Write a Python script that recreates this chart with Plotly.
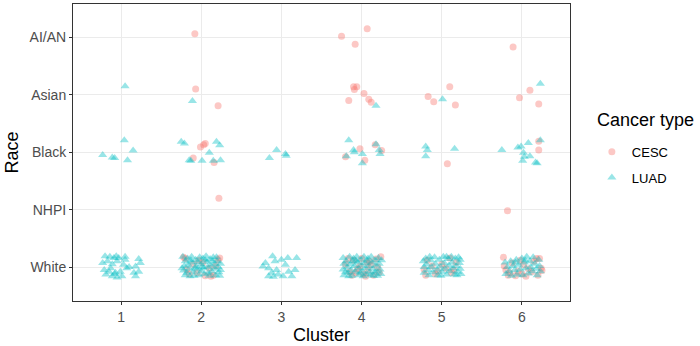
import plotly.graph_objects as go

clusters = [1, 2, 3, 4, 5, 6]
race_labels = ["White", "NHPI", "Black", "Asian", "AI/AN"]
race_pos = [1, 2, 3, 4, 5]

# CESC points (jittered cluster position, jittered race position)
cesc_x = [
    # AI/AN
    1.92, 3.75, 4.07, 3.92, 5.89,
    # Asian
    1.93, 2.21, 3.90, 3.94, 3.91, 3.84, 4.03, 4.09, 4.12, 4.83, 4.90, 5.10, 5.17, 5.97, 6.10, 6.21,
    # Black
    1.99, 2.03, 2.05, 1.90, 2.16, 3.80, 3.98, 4.04, 4.17, 4.25, 5.07, 6.21, 6.21,
    # NHPI
    2.22, 5.82,
    # White cluster 2
    1.78, 1.80, 2.23, 2.21, 1.82, 1.90, 1.95, 2.02, 2.10, 2.15, 2.05, 1.85, 2.18, 1.97, 2.12,
    # White cluster 4
    4.24, 3.80, 3.85, 3.90, 3.95, 3.98, 4.02, 4.05, 4.08, 4.10, 4.15, 4.20, 4.22, 3.88, 4.00, 4.12, 3.83, 4.18, 3.93, 4.07,
    # White cluster 5
    4.80, 4.78, 4.82, 4.88, 4.95, 5.00, 5.05, 5.10, 5.12, 5.18, 4.92, 5.15,
    # White cluster 6
    5.77, 5.78, 5.80, 5.85, 5.88, 5.92, 5.95, 6.00, 6.02, 6.05, 6.08, 6.12, 6.15, 6.18, 6.22, 6.24, 6.25, 5.83, 5.98, 6.20,
]
cesc_y = [
    5.06, 5.02, 5.15, 4.88, 4.83,
    4.10, 3.81, 4.14, 4.14, 4.09, 3.90, 4.02, 3.92, 3.87, 3.97, 3.88, 4.14, 3.82, 3.95, 4.08, 3.84,
    3.09, 3.13, 3.15, 2.90, 2.82, 2.92, 3.06, 2.86, 3.13, 3.03, 2.80, 3.04, 3.19,
    2.20, 1.98,
    1.17, 1.15, 1.16, 1.13, 0.96, 1.05, 0.90, 1.08, 0.98, 0.86, 0.85, 0.88, 1.02, 1.12, 0.84,
    1.18, 1.05, 0.92, 1.12, 0.97, 1.02, 0.88, 0.84, 0.95, 1.10, 0.86, 1.00, 0.91, 0.86, 1.15, 1.04, 1.15, 1.14, 0.90, 1.07,
    0.86, 0.96, 1.12, 1.02, 0.93, 1.05, 0.98, 1.16, 0.90, 1.08, 0.88, 0.95,
    1.17, 1.02, 0.95, 0.90, 1.07, 0.85, 0.93, 0.88, 1.04, 0.84, 0.97, 0.92, 1.10, 1.15, 1.15, 0.98, 0.94, 0.86, 1.12, 0.86,
]

# LUAD points
luad_x = [
    # Asian
    1.05, 1.89, 4.18, 5.01, 6.23,
    # Black
    0.77, 0.89, 0.92, 1.04, 1.08, 1.15,
    1.75, 1.79, 1.85, 1.87, 2.01, 2.10, 2.15, 2.19, 2.23, 2.24,
    2.85, 2.94, 3.05, 3.06,
    3.84, 3.81, 3.90, 3.91, 4.01, 4.01, 4.18, 4.22, 4.23,
    4.80, 4.82, 4.80, 5.16,
    5.75, 5.95, 5.99, 6.02, 6.03, 6.01, 6.08, 6.10, 6.17, 6.19, 6.23,
    # White cluster 1
    0.80, 0.86, 0.91, 0.94, 1.05, 1.22, 0.77, 0.83, 0.89, 0.95, 1.03, 1.07, 1.18, 1.24, 0.79,
    0.85, 0.93, 0.99, 0.89, 0.95, 1.01, 1.18, 1.22, 1.16, 0.81, 1.05, 0.97, 0.87, 0.92, 1.10,
    # White cluster 2
    1.77, 1.80, 1.79, 1.78, 1.80, 1.83, 1.84, 1.85, 1.86, 1.88, 1.88, 1.90, 1.91, 1.93, 1.94, 1.95, 1.97,
    1.98, 2.00, 2.00, 2.02, 2.03, 2.04, 2.06, 2.07, 2.08, 2.09, 2.11, 2.12, 2.13, 2.15, 2.16, 2.17,
    2.18, 2.20, 2.21, 2.22, 2.23, 2.24, 2.19, 1.82, 1.87, 1.96, 2.05, 2.10, 2.14, 1.92, 2.01, 1.76, 2.24,
    # White cluster 3
    2.89, 3.00, 3.08, 3.19, 2.80, 2.92, 3.05, 2.77, 2.84, 2.94, 2.88, 2.96, 2.84, 3.09, 3.17, 3.02, 3.13, 2.90,
    # White cluster 4
    3.77, 3.78, 3.77, 3.78, 3.81, 3.82, 3.83, 3.85, 3.86, 3.87, 3.88, 3.90, 3.91, 3.92, 3.94, 3.95, 3.96,
    3.97, 3.99, 4.00, 4.01, 4.03, 4.04, 4.05, 4.06, 4.08, 4.09, 4.10, 4.12, 4.13, 4.14, 4.15, 4.17,
    4.18, 4.19, 4.21, 4.22, 4.23, 4.24, 4.20, 3.80, 3.89, 3.98, 4.07, 4.16, 3.84, 4.02, 4.11, 3.93, 4.25,
    # White cluster 5
    4.77, 4.78, 4.78, 4.80, 4.81, 4.83, 4.84, 4.86, 4.87, 4.89, 4.91, 4.92, 4.94, 4.95, 4.97, 4.98, 5.00,
    5.02, 5.03, 5.04, 5.06, 5.08, 5.09, 5.10, 5.12, 5.13, 5.14, 5.16, 5.17, 5.18, 5.20, 5.21, 5.22,
    5.23, 5.24, 5.19, 4.85, 4.99, 5.06, 5.23,
    # White cluster 6
    5.79, 5.80, 5.82, 5.84, 5.86, 5.87, 5.89, 5.91, 5.93, 5.94, 5.96, 5.98, 6.00, 6.01, 6.03, 6.05,
    6.06, 6.08, 6.10, 6.11, 6.13, 6.14, 6.16, 6.18, 6.19, 6.21, 6.22, 6.23, 6.04, 5.92,
]
luad_y = [
    4.15, 3.89, 3.81, 3.92, 4.19,
    2.95, 2.91, 2.90, 3.21, 2.86, 3.03,
    3.18, 3.15, 2.86, 2.85, 2.85, 2.99, 2.85, 3.18, 3.12, 2.86,
    2.90, 3.04, 2.97, 2.94,
    3.21, 2.93, 3.04, 3.00, 2.97, 2.81, 3.14, 3.04, 2.97,
    3.10, 3.04, 2.93, 3.06,
    3.04, 3.08, 3.10, 2.99, 2.92, 2.85, 3.16, 2.93, 2.82, 2.81, 3.21,
    # White cluster 1
    1.19, 1.18, 1.16, 1.19, 1.18, 1.14, 1.07, 1.10, 1.05, 1.10, 1.04, 0.98, 1.01, 1.07, 0.95,
    0.92, 0.90, 0.92, 0.84, 0.82, 0.84, 0.84, 0.92, 0.90, 0.87, 1.13, 1.16, 0.98, 0.88, 1.00,
    # White cluster 2
    1.18, 1.10, 1.02, 0.94, 0.86, 1.15, 1.04, 0.97, 0.84, 1.18, 1.08, 0.92, 0.85, 1.13, 1.01, 0.96, 0.86,
    1.17, 1.05, 0.93, 1.15, 0.98, 0.88, 1.19, 1.09, 1.00, 0.90, 1.14, 1.03, 0.93, 1.17, 1.06, 0.97,
    0.86, 1.10, 1.00, 0.91, 0.85, 1.06, 1.17, 0.90, 1.12, 1.09, 1.12, 0.85, 1.11, 0.99, 1.00, 0.98, 0.95,
    # White cluster 3
    1.19, 1.13, 1.16, 1.16, 1.07, 1.10, 1.04, 1.01, 0.98, 0.95, 0.90, 0.87, 0.84, 0.92, 0.95, 0.84, 0.84, 0.83,
    # White cluster 4
    1.16, 1.06, 0.96, 0.86, 1.10, 1.00, 0.90, 1.18, 1.05, 0.95, 0.85, 1.15, 1.02, 0.92, 1.18, 1.08, 0.98,
    0.86, 1.13, 1.03, 0.93, 1.18, 1.07, 0.98, 0.88, 1.15, 1.02, 0.92, 1.18, 1.08, 0.97, 0.85, 1.12,
    1.03, 0.93, 1.16, 1.06, 0.96, 0.88, 0.85, 0.92, 1.10, 0.90, 1.11, 0.90, 0.84, 0.84, 0.86, 1.11, 1.12,
    # White cluster 5
    1.10, 1.00, 0.90, 1.15, 1.05, 0.95, 0.86, 1.12, 1.00, 0.91, 1.17, 1.06, 0.96, 0.86, 1.13, 1.01, 0.92,
    1.18, 1.07, 0.97, 0.87, 1.14, 1.03, 0.93, 1.18, 1.08, 0.98, 0.87, 1.15, 1.02, 0.92, 1.17, 1.07,
    0.97, 0.88, 0.86, 1.18, 0.85, 1.18, 1.13,
    # White cluster 6
    1.08, 0.88, 1.00, 0.93, 1.10, 0.85, 1.02, 0.95, 1.13, 0.87, 1.04, 0.96, 1.15, 0.86, 1.08, 0.98,
    1.18, 0.89, 1.10, 1.00, 0.93, 1.17, 1.06, 0.97, 0.86, 1.13, 1.02, 0.93, 1.12, 1.08,
]

FONT = "Liberation Sans, Arial, sans-serif"

fig = go.Figure()
fig.add_trace(go.Scatter(
    x=cesc_x, y=cesc_y, mode="markers", name="CESC", legendgroup="cesc",
    marker=dict(symbol="circle", size=7, color="rgba(248,118,109,0.4)", line=dict(width=0)),
))
fig.add_trace(go.Scatter(
    x=luad_x, y=luad_y, mode="markers", name="LUAD", legendgroup="luad",
    marker=dict(symbol="triangle-up", size=8, color="rgba(0,191,196,0.4)", line=dict(width=0)),
))

fig.add_annotation(
    text="Cancer type", xref="paper", yref="paper", x=1.05, y=0.609,
    xanchor="left", yanchor="middle", showarrow=False,
    font=dict(size=18, color="black", family=FONT),
)

fig.update_layout(
    width=700, height=346,
    margin=dict(l=73, r=130, t=4, b=45),
    paper_bgcolor="white", plot_bgcolor="white",
    font=dict(family=FONT, color="#4d4d4d"),
    legend=dict(
        font=dict(size=13, color="black", family=FONT),
        x=1.044, xanchor="left", y=0.553, yanchor="top",
        bgcolor="rgba(0,0,0,0)", itemsizing="trace", tracegroupgap=6,
    ),
    xaxis=dict(
        range=[0.4, 6.6], tickvals=clusters, ticktext=[str(c) for c in clusters],
        showgrid=True, gridcolor="#ebebeb", gridwidth=1, zeroline=False,
        showline=True, linecolor="#333333", linewidth=1, mirror=True,
        ticks="outside", ticklen=3, tickcolor="#333333",
        tickfont=dict(size=14, color="#4d4d4d", family=FONT),
        title=dict(text="Cluster", font=dict(size=18, color="black", family=FONT), standoff=4),
    ),
    yaxis=dict(
        range=[0.41, 5.58], tickvals=race_pos, ticktext=race_labels,
        showgrid=True, gridcolor="#ebebeb", gridwidth=1, zeroline=False,
        showline=True, linecolor="#333333", linewidth=1, mirror=True,
        ticks="outside", ticklen=3, tickcolor="#333333",
        tickfont=dict(size=14, color="#4d4d4d", family=FONT),
        title=dict(text="Race", font=dict(size=18, color="black", family=FONT), standoff=6),
    ),
)

fig.write_html("out.html")
